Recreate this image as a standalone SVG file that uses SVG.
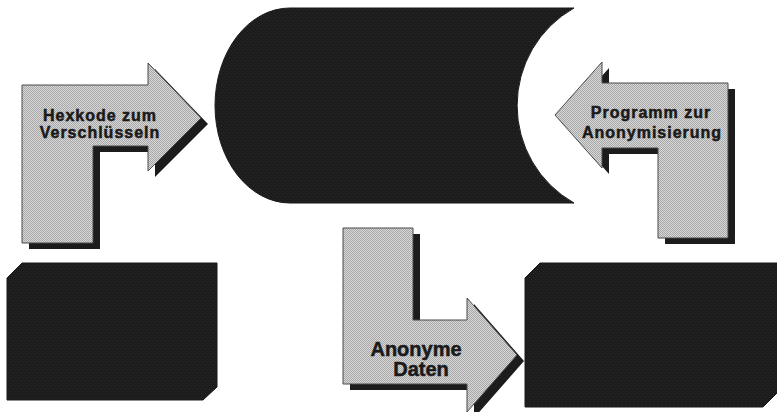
<svg xmlns="http://www.w3.org/2000/svg" width="777" height="412" viewBox="0 0 777 412">
  <defs>
    <pattern id="dither" width="2" height="2" patternUnits="userSpaceOnUse">
      <rect width="2" height="2" fill="#d9d9d9"/>
      <rect x="0" y="0" width="1" height="1" fill="#a6a6a6"/>
      <rect x="1" y="1" width="1" height="1" fill="#a6a6a6"/>
    </pattern>
    <pattern id="darkdither" width="4" height="4" patternUnits="userSpaceOnUse">
      <rect width="4" height="4" fill="#1c1c1c"/>
      <rect x="1" y="1" width="1" height="1" fill="#2e2e2e"/>
      <rect x="3" y="3" width="1" height="1" fill="#262626"/>
    </pattern>
  </defs>
  <style>
    .dark { fill: url(#darkdither); stroke: #1a1a1a; stroke-width: 1; }
    .shadow { fill: #1c1c1c; }
    .arrow { fill: url(#dither); stroke: #4a4a4a; stroke-width: 1; }
    .lbl { font-family: "Liberation Sans", Arial, sans-serif; font-weight: bold; fill: #1a1a1a; stroke: #1a1a1a; stroke-width: 0.5; text-anchor: middle; }
    .sm { font-size: 16px; letter-spacing: 1px; }
    .lg { font-size: 20px; }
  </style>
  <rect width="777" height="412" fill="#ffffff"/>

  <g id="central-store">
    <path class="dark" d="M290 8 L574 8 A112 112 0 0 0 574 203 L290 203 A75 97.5 0 0 1 290 8 Z"/>
  </g>

  <g id="box-left">
    <polygon class="dark" points="7,278 22,263 217,263 217,387 203,400 7,400"/>
  </g>

  <g id="box-right">
    <polygon class="dark" points="525,278 540,263 778,263 778,392 763,407 525,407"/>
  </g>

  <g id="connectors">
    <g id="arrow-hexkode">
      <polygon class="shadow" transform="translate(7,6)" points="22,85 148,85 148,63 201,118 148,171 148,146 93,146 93,243 22,243"/>
      <polygon class="arrow" points="22,85 148,85 148,63 201,118 148,171 148,146 93,146 93,243 22,243"/>
      <text class="lbl sm" x="100" y="121">Hexkode zum</text>
      <text class="lbl sm" x="100" y="138">Verschlüsseln</text>
    </g>
    <g id="arrow-programm">
      <polygon class="shadow" transform="translate(7,6)" points="728,83 602,83 602,62 555,115 602,168 602,148 658,148 658,238 728,238"/>
      <polygon class="arrow" points="728,83 602,83 602,62 555,115 602,168 602,148 658,148 658,238 728,238"/>
      <text class="lbl sm" x="651" y="118">Programm zur</text>
      <text class="lbl sm" x="652" y="138">Anonymisierung</text>
    </g>
    <g id="arrow-anonyme">
      <polygon class="shadow" transform="translate(7,6)" points="343,228 413,228 413,320 467,320 467,298 517,355 467,412 467,384 343,384"/>
      <polygon class="arrow" points="343,228 413,228 413,320 467,320 467,298 517,355 467,412 467,384 343,384"/>
      <text class="lbl lg" x="416" y="356">Anonyme</text>
      <text class="lbl lg" x="421" y="376">Daten</text>
    </g>
  </g>
</svg>
